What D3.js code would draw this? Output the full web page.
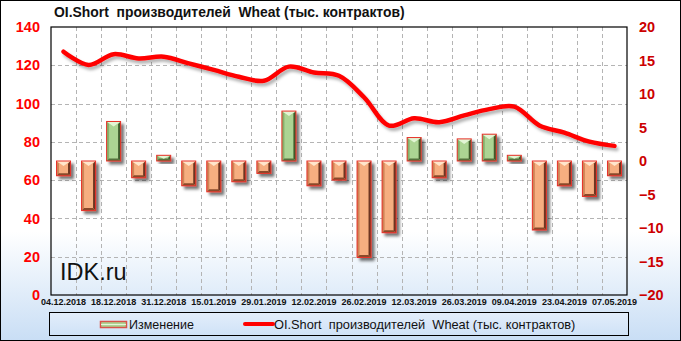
<!DOCTYPE html>
<html>
<head>
<meta charset="utf-8">
<script src="https://cdn.jsdelivr.net/npm/d3@7"></script>
<style>
  body { margin: 0; background: #fff; }
  svg { display: block; }
</style>
</head>
<body>
<svg id="chart" width="681" height="341"></svg>
<script>
// data
const dates = ["04.12.2018","11.12.2018","18.12.2018","25.12.2018","31.12.2018","08.01.2019",
  "15.01.2019","22.01.2019","29.01.2019","05.02.2019","12.02.2019","19.02.2019","26.02.2019",
  "05.03.2019","12.03.2019","19.03.2019","26.03.2019","02.04.2019","09.04.2019","16.04.2019",
  "23.04.2019","30.04.2019","07.05.2019"];
const change = [-2.2,-7.4,5.9,-2.5,0.85,-3.7,-4.6,-3.1,-1.85,7.45,-3.7,-2.85,-14.4,-10.7,
  3.5,-2.5,3.3,4.0,0.85,-10.3,-3.7,-5.3,-2.2];
const oiShort = [127.1,120.2,125.8,123.6,124.5,121.0,117.6,114.0,111.9,119.3,116.2,114.5,
  103.3,88.5,92.3,90.3,93.8,97.1,98.4,88.6,84.8,80.1,77.9];
const leftTicks = [0,20,40,60,80,100,120,140];
const rightTicks = [-20,-15,-10,-5,0,5,10,15,20];
const titleText = "OI.Short  производителей  Wheat (тыс. контрактов)";
const legendNames = ["Изменение", "OI.Short  производителей  Wheat (тыс. контрактов)"];

const margin = { top: 27, bottom: 46, left: 51, right: 54 };
const W = 681, H = 341;
const innerWidth = W - margin.left - margin.right;
const innerHeight = H - margin.top - margin.bottom;

const svg = d3.select('#chart');
const defs = svg.append('defs');

// background gradient
const bg = defs.append('linearGradient').attr('id','bg').attr('x1',0).attr('y1',0).attr('x2',0).attr('y2',1);
bg.append('stop').attr('offset','0').attr('stop-color','#ffffff');
bg.append('stop').attr('offset','0.68').attr('stop-color','#ffffff');
bg.append('stop').attr('offset','1').attr('stop-color','#c9def5');

const lg = defs.append('linearGradient').attr('id','lg').attr('x1',0).attr('y1',0).attr('x2',0).attr('y2',1);
lg.append('stop').attr('offset','0').attr('stop-color','#e3eefb');
lg.append('stop').attr('offset','1').attr('stop-color','#cfe2f7');

const shadow = defs.append('filter').attr('id','shadow')
  .attr('x','-50%').attr('y','-50%').attr('width','200%').attr('height','200%');
shadow.append('feDropShadow').attr('dx',3).attr('dy',3).attr('stdDeviation',1.8)
  .attr('flood-color','#000').attr('flood-opacity',0.55);

const lineShadow = defs.append('filter').attr('id','lineShadow')
  .attr('x','-10%').attr('y','-50%').attr('width','120%').attr('height','200%');
lineShadow.append('feDropShadow').attr('dx',2).attr('dy',3).attr('stdDeviation',1.5)
  .attr('flood-color','#000').attr('flood-opacity',0.3);

svg.append('rect').attr('x',0.5).attr('y',0.5).attr('width',W-1).attr('height',H-1)
  .attr('fill','url(#bg)').attr('stroke','#000');

// title
svg.append('text')
  .attr('x', 54).attr('y', 17)
  .style('white-space','pre')
  .attr('font-family','Liberation Sans, Arial, sans-serif')
  .attr('font-weight','bold')
  .attr('font-size', 13.9)
  .attr('fill','#111')
  .text(titleText);

const g = svg.append('g').attr('transform','translate('+margin.left+','+margin.top+')');

const x = d3.scaleBand().domain(dates).range([0, innerWidth]);
const yL = d3.scaleLinear().domain([0,140]).range([innerHeight, 0]);
const yR = d3.scaleLinear().domain([-20,20]).range([innerHeight, 0]);

// grid
g.selectAll('.hgrid').data(leftTicks.filter(d => d > 0 && d < 140)).enter()
  .append('line')
  .attr('x1',0).attr('x2',innerWidth)
  .attr('y1', d => Math.round(yL(d))+0.5).attr('y2', d => Math.round(yL(d))+0.5)
  .attr('stroke','#b4b4b4').attr('stroke-dasharray','4,3');
g.selectAll('.vgrid').data(dates.slice(1)).enter()
  .append('line')
  .attr('x1', d => Math.round(x(d))+0.5).attr('x2', d => Math.round(x(d))+0.5)
  .attr('y1',0).attr('y2',innerHeight)
  .attr('stroke','#b4b4b4').attr('stroke-dasharray','4,3');

// watermark
g.append('text')
  .attr('x', 9).attr('y', yL(8))
  .attr('font-family','Liberation Sans, Arial, sans-serif')
  .attr('font-size', 23.5)
  .attr('fill','#111')
  .text('IDK.ru');

// bars
const barW = 14;
const colors = {
  pos: { main:'#acd493', light:'#e3f5d5', left:'#86b06c', right:'#3f5a2c', bottom:'#54713c' },
  neg: { main:'#f6ae80', light:'#ffe6cc', left:'#cf8457', right:'#6e3620', bottom:'#8a4a2c' }
};
const bars = g.selectAll('.bar').data(change.map((v,i) => ({ v: v, d: dates[i] }))).enter()
  .append('g').attr('class','bar').attr('filter','url(#shadow)');

bars.each(function(p) {
  const c = p.v >= 0 ? colors.pos : colors.neg;
  const x0 = x(p.d) + (x.bandwidth() - barW) / 2, x1 = x0 + barW;
  const y0 = Math.min(yR(p.v), yR(0)), y1 = Math.max(yR(p.v), yR(0));
  const b = Math.min(2.5, (y1 - y0) / 2);
  const s = d3.select(this);
  s.append('rect').attr('x',x0).attr('y',y0).attr('width',barW).attr('height',y1-y0).attr('fill',c.main);
  s.append('polygon').attr('fill',c.left)
    .attr('points',[[x0,y0],[x0+b,y0+b],[x0+b,y1-b],[x0,y1]].join(' '));
  s.append('polygon').attr('fill',c.right)
    .attr('points',[[x1,y0],[x1-b,y0+b],[x1-b,y1-b],[x1,y1]].join(' '));
  s.append('polygon').attr('fill',c.bottom)
    .attr('points',[[x0,y1],[x0+b,y1-b],[x1-b,y1-b],[x1,y1]].join(' '));
  s.append('polygon').attr('fill',c.light)
    .attr('points',[[x0,y0],[x1,y0],[(x0+x1)/2,y0+Math.min(5,(y1-y0)*0.6)]].join(' '));
  s.append('rect').attr('x',x0).attr('y',y0).attr('width',barW).attr('height',y1-y0)
    .attr('fill','none').attr('stroke','#e8322a').attr('stroke-width',1);
});

// line
g.append('path')
  .datum(oiShort)
  .attr('fill','none')
  .attr('stroke','#ff0000')
  .attr('stroke-width',4.5)
  .attr('stroke-linecap','round')
  .attr('filter','url(#lineShadow)')
  .attr('d', d3.line()
    .curve(d3.curveCatmullRom.alpha(0.5))
    .x((d,i) => x(dates[i]) + x.bandwidth()/2)
    .y(d => yL(d)));

// plot frame
g.append('rect').attr('x',0).attr('y',0).attr('width',innerWidth).attr('height',innerHeight)
  .attr('fill','none').attr('stroke','#000').attr('stroke-width',1.2);

// left axis
const axL = g.append('g').call(d3.axisLeft(yL).tickValues(leftTicks).tickSize(0).tickPadding(11));
axL.select('.domain').remove();
axL.selectAll('text')
  .attr('font-family','Liberation Sans, Arial, sans-serif')
  .attr('font-weight','bold').attr('font-size',14.5).attr('fill','#ff0000');

// right axis
const axR = g.append('g').attr('transform','translate('+innerWidth+',0)')
  .call(d3.axisRight(yR).tickValues(rightTicks).tickSize(0).tickPadding(12));
axR.select('.domain').remove();
axR.selectAll('text')
  .attr('font-family','Liberation Sans, Arial, sans-serif')
  .attr('font-weight','bold').attr('font-size',14.5).attr('fill','#cc0000');

// bottom axis
const axB = g.append('g').attr('transform','translate(0,'+innerHeight+')')
  .call(d3.axisBottom(x).tickValues(dates.filter((d,i) => i % 2 === 0)).tickSize(0).tickPadding(4));
axB.select('.domain').remove();
axB.selectAll('text')
  .attr('font-family','Liberation Sans, Arial, sans-serif')
  .attr('font-weight','bold').attr('font-size',9).attr('fill','#111');

// legend
const legend = svg.append('g');
legend.append('rect').attr('x',49.5).attr('y',312.5).attr('width',579).attr('height',23)
  .attr('fill','url(#lg)').attr('stroke','#000');
legend.append('rect').attr('x',100.5).attr('y',321.5).attr('width',26).attr('height',6)
  .attr('fill','#acd493').attr('stroke','#d9534a').attr('stroke-width',1.5);
legend.append('line').attr('x1',101).attr('x2',126).attr('y1',324.5).attr('y2',324.5)
  .attr('stroke','#e6f4da').attr('stroke-width',1);
legend.append('text').attr('x',129).attr('y',329)
  .attr('font-family','Liberation Sans, Arial, sans-serif').attr('font-size',12.5).attr('fill','#111')
  .text(legendNames[0]);
legend.append('line').attr('x1',245).attr('x2',273).attr('y1',324).attr('y2',324)
  .attr('stroke','#ff0000').attr('stroke-width',4).attr('stroke-linecap','round');
legend.append('text').attr('x',274).attr('y',329)
  .style('white-space','pre')
  .attr('font-family','Liberation Sans, Arial, sans-serif').attr('font-size',12.8).attr('fill','#111')
  .text(legendNames[1]);
</script>
</body>
</html>
